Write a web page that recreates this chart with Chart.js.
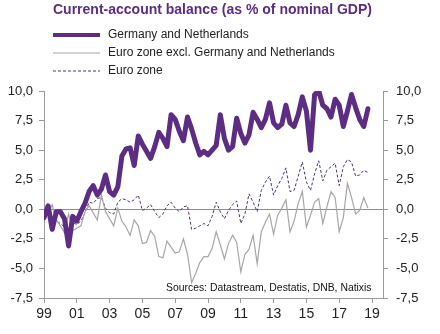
<!DOCTYPE html>
<html><head><meta charset="utf-8">
<script src="https://cdn.jsdelivr.net/npm/chart.js@4.4.0/dist/chart.umd.min.js"></script>
<style>html,body{margin:0;padding:0;background:#fff;}#wrap{position:relative;width:440px;height:334px;}</style>
</head><body><div id="wrap"><canvas id="c" width="440" height="334"></canvas></div>
<script>
// Quarterly data, 1999Q1 .. 2018Q4
const startYear = 1999;
const seriesLabels = ['Germany and Netherlands', 'Euro zone excl. Germany and Netherlands', 'Euro zone'];
const germanyNetherlands = [
  -0.7, 0.3, -1.7, -0.2, -0.2, -0.8, -3.1, -0.6, -1.0, -0.2,
  0.5, 1.5, 2.0, 1.2, 1.7, 2.9, 1.5, 1.2, 1.9, 4.5,
  5.1, 5.2, 3.7, 6.2, 5.5, 4.9, 4.3, 5.3, 6.5, 6.0,
  5.3, 8.0, 7.6, 6.6, 5.8, 7.8, 6.8, 5.6, 4.6, 4.9,
  4.6, 5.0, 5.4, 8.0, 6.0, 5.0, 5.3, 7.7, 6.4, 5.6,
  6.3, 8.2, 7.6, 6.9, 7.6, 9.0, 7.3, 6.9, 7.2, 8.8,
  7.3, 7.0, 8.0, 9.5, 8.3, 5.0, 9.7, 10.0, 8.8, 8.5,
  7.8, 9.3, 8.8, 7.0, 8.3, 9.7, 8.6, 7.6, 7.0, 8.5
];
const euroExGermanyNetherlands = [
  -0.8, -0.4, 0.4, -0.9, -1.4, -2.0, -0.4, -1.8, -1.6, -1.4,
  -0.2, 0.3, -0.3, -0.9, 1.2, -0.2, -0.8, -1.4, 0.1, -1.0,
  -1.5, -2.2, -0.9, -1.4, -2.9, -2.8, -1.8, -2.3, -4.0, -4.1,
  -2.7, -3.2, -3.7, -3.6, -2.5, -3.8, -6.2, -5.4, -4.5, -4.0,
  -4.0, -3.3, -1.9, -3.0, -4.2, -2.9, -2.2, -2.8, -5.3, -3.8,
  -3.4, -2.2, -4.6, -1.9, -1.1, -0.4, -2.1, -0.5, 0.1, 0.8,
  -1.9, -1.0, 0.5, 1.5, -1.5, -0.5, 0.6, 0.9, -1.2, 0.2,
  1.5, 1.0, -1.9, -0.7, 2.2, 1.0, -0.4, -0.1, 1.0, 0.1
];
const euroZone = [
  -0.6, -0.2, -0.6, -1.0, -1.2, -1.5, -1.8, -1.1, -1.3, -1.0,
  -0.3, 0.6, 0.5, 0.9, 1.0, 0.1, -0.3, -0.4, 0.6, 0.9,
  0.8, 0.6, 0.8, 1.2, -0.1, 0.1, 0.4, -0.2, -0.7, -0.4,
  0.3, 0.6, 0.1, -0.2, 0.2, 0.3, -1.7, -1.6, -1.4, -1.2,
  -1.4, -0.6, 0.6, -0.2, -0.8, -0.1, 0.4, 0.7, -1.2, -0.4,
  1.3, 0.6, -0.2, 1.6, 2.3, 2.8, 1.2, 2.0, 2.6, 3.5,
  1.5, 1.6, 2.8, 4.0, 2.3, 1.6, 3.0, 4.1, 2.4, 3.3,
  3.6, 3.9, 2.0, 3.6, 4.2, 4.0, 2.8, 2.9, 3.3, 3.1
];
const yTickValues = [-7.5, -5, -2.5, 0, 2.5, 5, 7.5, 10];
const xTickYears = [1999, 2001, 2003, 2005, 2007, 2009, 2011, 2013, 2015, 2017, 2019];
const titleText = 'Current-account balance (as % of nominal GDP)';
const sourceText = 'Sources: Datastream, Destatis, DNB, Natixis';

const FONT = '"Liberation Sans", Arial, sans-serif';
const PURPLE = '#5c2d83';
const DASHED = '#4f3570';
const GREY = '#a6a6a6';
const AXIS = '#9a9a9a';

const toPoints = arr => arr.map((v, i) => ({ x: startYear + i / 4, y: v }));

const decor = {
  id: 'decor',
  afterDraw(chart) {
    const ctx = chart.ctx;
    ctx.save();
    // title
    ctx.font = 'bold 14px ' + FONT;
    ctx.fillStyle = PURPLE;
    ctx.textAlign = 'left';
    ctx.textBaseline = 'middle';
    ctx.fillText(titleText, 53, 10);
    // legend
    chart.data.datasets.forEach((ds, k) => {
      const y = 35 + k * 18;
      ctx.beginPath();
      ctx.strokeStyle = ds.borderColor;
      ctx.lineWidth = k === 0 ? 4 : ds.borderWidth;
      ctx.setLineDash(ds.borderDash || []);
      ctx.moveTo(53, y);
      ctx.lineTo(100, y);
      ctx.stroke();
      ctx.setLineDash([]);
      ctx.fillStyle = '#222';
      ctx.font = '12px ' + FONT;
      ctx.fillText(ds.label, 108, y);
    });
    // sources
    ctx.font = '10.4px ' + FONT;
    ctx.fillStyle = '#111';
    ctx.fillText(sourceText, 166, 288);
    ctx.restore();
  }
};

new Chart(document.getElementById('c'), {
  type: 'line',
  data: {
    datasets: [
      { label: seriesLabels[0], data: toPoints(germanyNetherlands), borderColor: PURPLE, borderWidth: 5,
        pointRadius: 0, tension: 0, borderJoinStyle: 'round', borderCapStyle: 'round', yAxisID: 'y' },
      { label: seriesLabels[1], data: toPoints(euroExGermanyNetherlands), borderColor: GREY, borderWidth: 1.2,
        pointRadius: 0, tension: 0, yAxisID: 'y' },
      { label: seriesLabels[2], data: toPoints(euroZone), borderColor: DASHED, borderWidth: 1,
        borderDash: [3, 2], pointRadius: 0, tension: 0, yAxisID: 'y' }
    ]
  },
  options: {
    responsive: false,
    animation: false,
    devicePixelRatio: 1,
    layout: { padding: { top: 91, left: 0, right: 0, bottom: 0 } },
    plugins: { legend: { display: false }, title: { display: false }, tooltip: { enabled: false } },
    scales: {
      x: {
        type: 'linear', position: 'bottom', min: 1999, max: 2019.67,
        afterBuildTicks: s => { s.ticks = xTickYears.map(v => ({ value: v })); },
        afterFit: s => { s.height = 36; },
        ticks: { autoSkip: false, maxRotation: 0, padding: 3, color: '#222',
          font: { family: FONT, size: 14 },
          callback: v => String(Math.round(v) % 100).padStart(2, '0') },
        grid: { drawOnChartArea: false, drawTicks: true, tickLength: 5, tickColor: AXIS, color: AXIS },
        border: { display: true, color: AXIS, width: 1 }
      },
      y: {
        type: 'linear', position: 'left', min: -7.5, max: 10,
        afterBuildTicks: s => { s.ticks = yTickValues.map(v => ({ value: v })); },
        afterFit: s => { s.width = 44; },
        ticks: { padding: 6, color: '#222', font: { family: FONT, size: 13 },
          callback: v => v.toFixed(1).replace('.', ',') },
        grid: { drawOnChartArea: true, drawTicks: true, tickLength: 5, tickColor: AXIS,
          color: c => (c.tick && c.tick.value === 0) ? '#8c8c8c' : 'rgba(0,0,0,0)' },
        border: { display: true, color: AXIS, width: 1 }
      },
      y2: {
        type: 'linear', position: 'right', min: -7.5, max: 10,
        afterBuildTicks: s => { s.ticks = yTickValues.map(v => ({ value: v })); },
        afterFit: s => { s.width = 57; },
        ticks: { padding: 8, color: '#222', font: { family: FONT, size: 13 },
          callback: v => v.toFixed(1).replace('.', ',') },
        grid: { drawOnChartArea: false, drawTicks: true, tickLength: 5, tickColor: AXIS, color: AXIS },
        border: { display: true, color: AXIS, width: 1 }
      }
    }
  },
  plugins: [decor]
});
</script>
</body></html>
